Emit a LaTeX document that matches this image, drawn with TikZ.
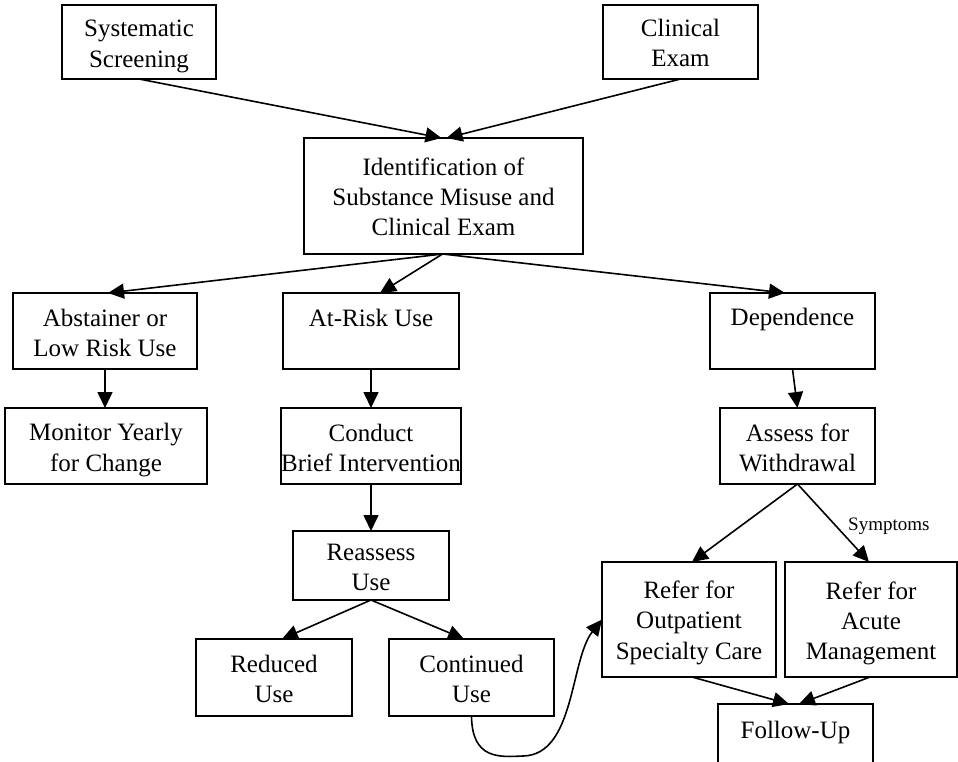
\documentclass[tikz,border=0pt]{standalone}
\usepackage{fontspec}
\setmainfont{Liberation Serif}
\usetikzlibrary{arrows.meta}
\newcommand{\bs}{\rule[-5pt]{0pt}{30pt}}
\begin{document}
\begin{tikzpicture}[x=1pt,y=-1pt,
 box/.style={draw, line width=1.8pt, inner sep=0pt, outer sep=0pt, align=center, font=\fontsize{25}{30}\selectfont},
 arr/.style={line width=1.6pt, -{Triangle[length=16pt,width=15pt]}},
 lbl/.style={font=\fontsize{19}{22}\selectfont, inner sep=0pt},
]
\useasboundingbox (0,0) rectangle (958,762);
\node[box, minimum width=154pt, minimum height=74pt] (sys) at (139,42) {\bs Systematic\\\bs Screening};
\node[box, minimum width=155pt, minimum height=74pt] (clin) at (680.5,42) {\bs Clinical\\\bs Exam};
\node[box, minimum width=279pt, minimum height=116pt] (ident) at (443.5,196) {\bs Identification of\\\bs Substance Misuse and\\\bs Clinical Exam};
\node[box, minimum width=184pt, minimum height=76pt] (abst) at (105,331) {\bs Abstainer or\\\bs Low Risk Use};
\node[box, minimum width=176pt, minimum height=76pt] (atrisk) at (371,331) {\bs At-Risk Use\\\bs};
\node[box, minimum width=165pt, minimum height=76pt] (dep) at (792.5,331) {\bs Dependence\\\bs};
\node[box, minimum width=202pt, minimum height=76pt] (mon) at (106,446) {\bs Monitor Yearly\\\bs for Change};
\node[box, minimum width=180pt, minimum height=76pt] (conduct) at (371,446) {\bs Conduct\\\bs Brief Intervention};
\node[box, minimum width=155pt, minimum height=76pt] (assess) at (797.5,446) {\bs Assess for\\\bs Withdrawal};
\node[box, minimum width=156pt, minimum height=69pt] (reassess) at (371,565.5) {\bs Reassess\\\bs Use};
\node[box, minimum width=156pt, minimum height=77pt] (reduced) at (274,677.5) {\bs Reduced\\\bs Use};
\node[box, minimum width=165pt, minimum height=77pt] (cont) at (471.5,677.5) {\bs Continued\\\bs Use};
\node[box, minimum width=174pt, minimum height=115pt] (outp) at (689,619.5) {\bs Refer for\\\bs Outpatient\\\bs Specialty Care};
\node[box, minimum width=172pt, minimum height=115pt] (acute) at (871,619.5) {\bs Refer for\\\bs Acute\\\bs Management};
\node[box, minimum width=155pt, minimum height=62pt] (follow) at (795.5,735) {\rule[-22pt]{0pt}{50pt}Follow-Up};
\node[lbl, anchor=base west] (sym) at (848,530) {Symptoms};

\draw[arr] (sys.south) -- ([xshift=-2pt]ident.north);
\draw[arr] (clin.south) -- ([xshift=3pt]ident.north);
\draw[arr] ([xshift=-1pt]ident.south) -- ([xshift=3pt]abst.north);
\draw[arr] ([xshift=-1pt]ident.south) -- ([xshift=9pt]atrisk.north);
\draw[arr] ([xshift=-1pt]ident.south) -- ([xshift=-7.5pt]dep.north);
\draw[arr] (abst.south) -- (abst.south |- mon.north);
\draw[arr] (atrisk.south) -- (atrisk.south |- conduct.north);
\draw[arr] (dep.south) -- (assess.north);
\draw[arr] (conduct.south) -- (conduct.south |- reassess.north);
\draw[arr] (reassess.south) -- ([xshift=8pt]reduced.north);
\draw[arr] (reassess.south) -- ([xshift=-7.5pt]cont.north);
\draw[arr] (assess.south) -- ([xshift=3pt]outp.north);
\draw[arr] (assess.south) -- ([xshift=-2pt]acute.north);
\draw[arr] ([xshift=3pt]outp.south) -- ([xshift=-6.5pt]follow.north);
\draw[arr] ([xshift=-1pt]acute.south) -- ([xshift=3.5pt]follow.north);
\draw[arr] (cont.south) .. controls (472,760) and (500,757) .. (523,756) .. controls (575,755) and (570,660) .. (outp.west);
\end{tikzpicture}
\end{document}
